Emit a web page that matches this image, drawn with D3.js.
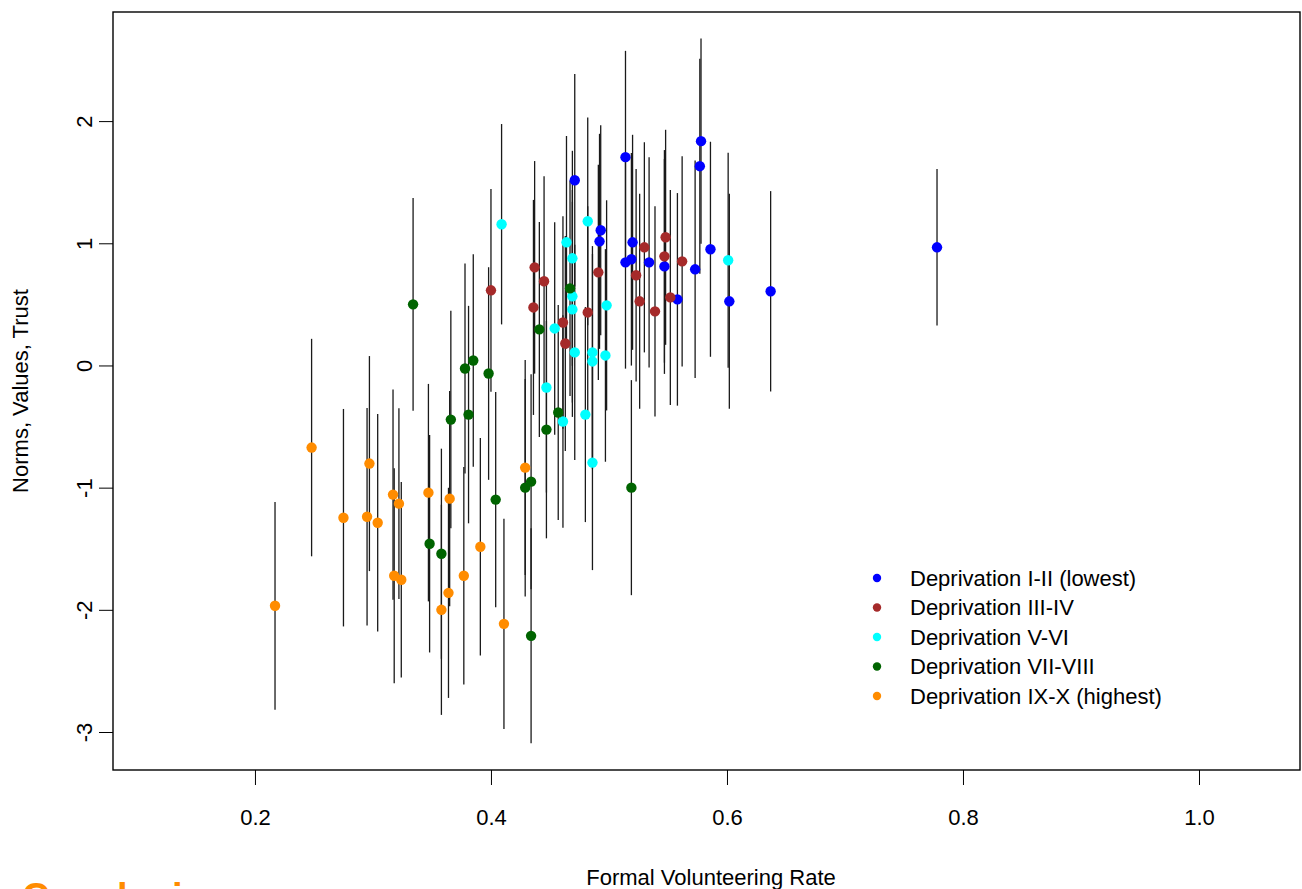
<!DOCTYPE html>
<html>
<head>
<meta charset="utf-8">
<script src="https://cdn.jsdelivr.net/npm/d3@7"></script>
<style>
  body { margin: 0; background: #fff; overflow: hidden; }
  text { font-family: "Liberation Sans", Arial, sans-serif; }
</style>
</head>
<body>
<script>
// Groups, colours and legend labels
const groups = ["I-II", "III-IV", "V-VI", "VII-VIII", "IX-X"];
const groupLabels = [
    "Deprivation I-II (lowest)",
    "Deprivation III-IV",
    "Deprivation V-VI",
    "Deprivation VII-VIII",
    "Deprivation IX-X (highest)"
];
const groupColors = ["#0000FF", "#A52A2A", "#00FFFF", "#006400", "#FF8C00"];

// Each point: [volunteering rate, norms score, half CI]
const groupI_II = [
    [0.471, 1.516, 0.87], [0.493, 1.107, 0.86], [0.492, 1.016, 0.88],
    [0.514, 1.705, 0.87], [0.520, 1.008, 0.88], [0.519, 0.869, 0.87],
    [0.514, 0.844, 0.87], [0.534, 0.844, 0.86], [0.547, 0.811, 0.88],
    [0.558, 0.541, 0.87], [0.573, 0.787, 0.89], [0.578, 1.836, 0.84],
    [0.577, 1.631, 0.88], [0.586, 0.951, 0.88], [0.602, 0.525, 0.88],
    [0.637, 0.607, 0.82], [0.778, 0.967, 0.64]
];
const groupIII_IV = [
    [0.400, 0.615, 0.83], [0.437, 0.803, 0.87], [0.445, 0.689, 0.86],
    [0.436, 0.475, 0.88], [0.461, 0.352, 0.87], [0.463, 0.180, 0.88],
    [0.482, 0.434, 0.87], [0.491, 0.762, 0.88], [0.523, 0.738, 0.87],
    [0.530, 0.967, 0.86], [0.526, 0.525, 0.88], [0.539, 0.443, 0.86],
    [0.548, 1.049, 0.88], [0.547, 0.893, 0.87], [0.562, 0.852, 0.86],
    [0.552, 0.557, 0.88]
];
const groupV_VI = [
    [0.409, 1.156, 0.82], [0.464, 1.008, 0.87], [0.469, 0.877, 0.88],
    [0.482, 1.180, 0.85], [0.469, 0.566, 0.87], [0.469, 0.459, 0.88],
    [0.498, 0.492, 0.86], [0.454, 0.303, 0.87], [0.471, 0.107, 0.88],
    [0.486, 0.107, 0.87], [0.486, 0.033, 0.88], [0.497, 0.082, 0.87],
    [0.447, -0.180, 0.86], [0.480, -0.402, 0.88], [0.461, -0.459, 0.87],
    [0.486, -0.795, 0.88], [0.601, 0.861, 0.88]
];
const groupVII_VIII = [
    [0.334, 0.500, 0.87], [0.378, -0.025, 0.86], [0.385, 0.041, 0.87],
    [0.398, -0.066, 0.87], [0.366, -0.443, 0.89], [0.381, -0.402, 0.89],
    [0.441, 0.295, 0.88], [0.447, -0.525, 0.89], [0.457, -0.385, 0.88],
    [0.467, 0.631, 0.88], [0.404, -1.098, 0.88], [0.429, -1.000, 0.89],
    [0.434, -0.951, 0.88], [0.434, -2.213, 0.88], [0.348, -1.459, 0.89],
    [0.358, -1.541, 0.86], [0.519, -1.000, 0.88]
];
const groupIX_X = [
    [0.217, -1.967, 0.85], [0.248, -0.672, 0.89], [0.275, -1.246, 0.89],
    [0.295, -1.238, 0.89], [0.297, -0.803, 0.88], [0.304, -1.287, 0.89],
    [0.317, -1.057, 0.86], [0.322, -1.131, 0.78], [0.318, -1.721, 0.88],
    [0.324, -1.754, 0.80], [0.347, -1.041, 0.89], [0.365, -1.090, 0.88],
    [0.364, -1.861, 0.86], [0.358, -2.000, 0.86], [0.377, -1.721, 0.89],
    [0.391, -1.484, 0.89], [0.411, -2.115, 0.86], [0.429, -0.836, 0.88]
];
const groupData = [groupI_II, groupIII_IV, groupV_VI, groupVII_VIII, groupIX_X];

const xTicks = [0.2, 0.4, 0.6, 0.8, 1.0];
const yTicks = [-3, -2, -1, 0, 1, 2];

const W = 1302, H = 889;
const plot = { left: 113, right: 1300, top: 12, bottom: 770 };

const svg = d3.select("body").append("svg")
    .attr("width", W)
    .attr("height", H);

const x = d3.scaleLinear().domain([0.0797, 1.0856]).range([plot.left, plot.right]);
const y = d3.scaleLinear().domain([2.893, -3.311]).range([plot.top, plot.bottom]);

// flatten rows with group index
const rows = [];
groupData.forEach((g, gi) => g.forEach(d => rows.push({ gi: gi, x: d[0], y: d[1], ci: d[2] })));

// error bars
svg.append("g")
    .selectAll("line")
    .data(rows)
    .join("line")
    .attr("x1", d => x(d.x))
    .attr("x2", d => x(d.x))
    .attr("y1", d => y(d.y + d.ci))
    .attr("y2", d => y(d.y - d.ci))
    .attr("stroke", "#1a1a1a")
    .attr("stroke-width", 1.3);

// points
svg.append("g")
    .selectAll("circle")
    .data(rows)
    .join("circle")
    .attr("cx", d => x(d.x))
    .attr("cy", d => y(d.y))
    .attr("r", 5.2)
    .attr("fill", d => groupColors[d.gi]);

// box
svg.append("rect")
    .attr("x", plot.left)
    .attr("y", plot.top)
    .attr("width", plot.right - plot.left)
    .attr("height", plot.bottom - plot.top)
    .attr("fill", "none")
    .attr("stroke", "#000")
    .attr("stroke-width", 1.4);

// x axis
const xAxis = svg.append("g")
    .attr("transform", `translate(0,${plot.bottom})`)
    .call(d3.axisBottom(x).tickValues(xTicks).tickFormat(d3.format(".1f")).tickSize(15).tickPadding(24));
xAxis.select(".domain").remove();
xAxis.selectAll("text")
    .attr("font-size", 22)
    .attr("font-family", "Liberation Sans, Arial, sans-serif")
    .attr("fill", "#000");
xAxis.selectAll("line").attr("stroke", "#000");

// y axis
const yAxis = svg.append("g")
    .attr("transform", `translate(${plot.left},0)`)
    .call(d3.axisLeft(y).tickValues(yTicks).tickFormat(d3.format("d")).tickSize(14));
yAxis.select(".domain").remove();
yAxis.selectAll("line").attr("stroke", "#000");
yAxis.selectAll("text")
    .attr("x", null)
    .attr("dy", null)
    .attr("text-anchor", "middle")
    .attr("transform", "translate(-29,0) rotate(-90)")
    .attr("y", 0)
    .attr("dy", "0.36em")
    .attr("font-size", 22)
    .attr("font-family", "Liberation Sans, Arial, sans-serif")
    .attr("fill", "#000")
    .text(d => d === 0 ? "0" : String(d));

// axis titles
svg.append("text")
    .attr("x", 711)
    .attr("y", 885)
    .attr("text-anchor", "middle")
    .attr("font-size", 22)
    .text("Formal Volunteering Rate");

svg.append("text")
    .attr("transform", `translate(28,${(plot.top + plot.bottom) / 2}) rotate(-90)`)
    .attr("text-anchor", "middle")
    .attr("font-size", 22)
    .text("Norms, Values, Trust");

// legend
const legend = svg.append("g").attr("transform", "translate(877,578)");
groupLabels.forEach((lab, i) => {
    const row = legend.append("g").attr("transform", `translate(0,${i * 29.5})`);
    row.append("circle").attr("r", 4.2).attr("fill", groupColors[i]);
    row.append("text")
        .attr("x", 33)
        .attr("dy", "0.36em")
        .attr("font-size", 22)
        .text(lab);
});

// next slide heading, cut off at the bottom
svg.append("text")
    .attr("x", 22)
    .attr("y", 910)
    .attr("font-size", 38)
    .attr("font-weight", "bold")
    .attr("fill", "#FF8C00")
    .text("Conclusions");
</script>
</body>
</html>
